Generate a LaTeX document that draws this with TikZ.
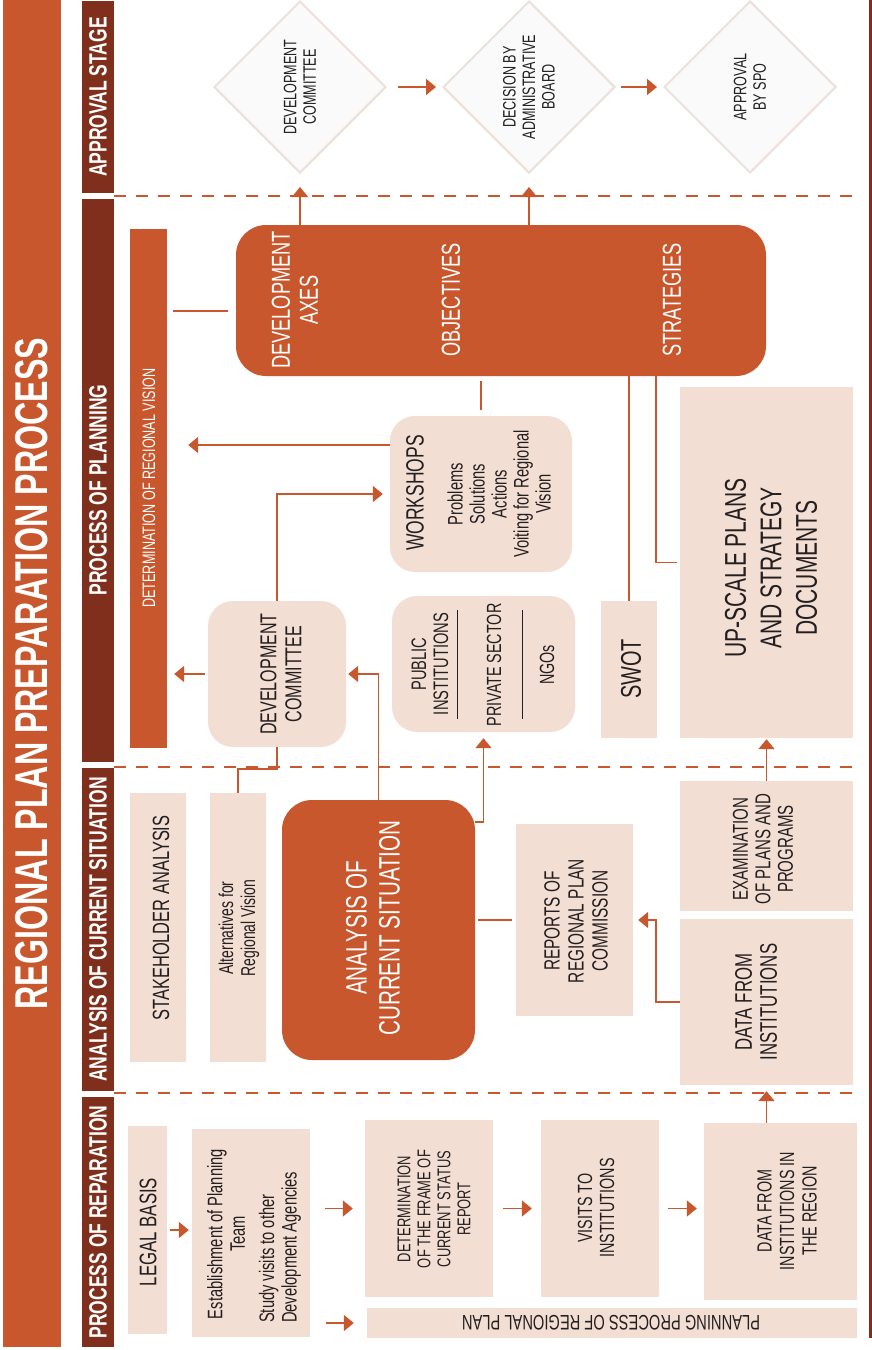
\documentclass[tikz,border=0pt]{standalone}
\usepackage{fontspec}
\setmainfont{Liberation Sans}[FakeStretch=0.7]
\usetikzlibrary{arrows.meta,fit,shapes.geometric}
\definecolor{orC}{HTML}{C9572D}
\definecolor{brC}{HTML}{7F2F1B}
\definecolor{ltC}{HTML}{F3DED3}
\definecolor{dfC}{HTML}{FAFAFA}
\definecolor{dbC}{HTML}{ECE0DB}
\definecolor{txC}{HTML}{231F20}
\newcommand{\fsz}[2]{\fontsize{#1}{#2}\selectfont}
\begin{document}
\begin{tikzpicture}[x=1pt,y=-1pt,
 lbox/.style={fill=ltC, draw=none, inner sep=0pt},
 obox/.style={fill=orC, draw=none, inner sep=0pt},
 hbar/.style={fill=brC, draw=none, inner sep=0pt},
 dia/.style={diamond, fill=dfC, draw=dbC, line width=2pt, minimum width=172pt, minimum height=172pt, inner sep=0pt},
 vt/.style={rotate=90, align=center, inner sep=0pt, text=txC},
 wt/.style={rotate=90, align=center, inner sep=0pt, text=white},
 ln/.style={draw=orC, line width=1.7pt},
 arr/.style={ln, -{Triangle[length=10pt,width=16pt]}},
 sect/.style={draw=orC, line width=2.5pt, dash pattern=on 12pt off 10pt},
 hdr/.style={wt, font=\fsz{25}{26}\bfseries},
]
\useasboundingbox (0,0) rectangle (872,1350);
\fill[white] (0,0) rectangle (872,1350);

% title and section headers
\node[obox, fit={(3,0) (61,1347)}] (tb) {};
\node[wt, font=\fsz{46}{50}\bfseries] (tt) at (tb.center) {REGIONAL PLAN PREPARATION PROCESS};
\node[hbar, fit={(82,1) (114,193)}] (hA) {};
\node[hdr] (hAt) at (hA.center) {APPROVAL STAGE};
\node[hbar, fit={(82,199) (114,762)}] (hP) {};
\node[hdr] (hPt) at (98,490) {PROCESS OF PLANNING};
\node[hbar, fit={(82,768) (114,1091)}] (hC) {};
\node[hdr] (hCt) at (hC.center) {ANALYSIS OF CURRENT SITUATION};
\node[hbar, fit={(82,1097) (114,1347)}] (hR) {};
\node[hdr] (hRt) at (hR.center) {PROCESS OF REPARATION};
\node[hbar, fit={(868.5,0) (871.5,1338)}] (rl) {};

% section dividers
\draw[sect] (114,196) -- (858,196);
\draw[sect] (114,767) -- (858,767);
\draw[sect] (114,1093) -- (858,1093);

% approval stage
\node[dia] (d1) at (300,87) {};
\node[vt, font=\fsz{18}{19.5}] (d1t) at (d1.center) {DEVELOPMENT\\COMMITTEE};
\node[dia] (d2) at (529,87) {};
\node[vt, font=\fsz{18}{19.5}] (d2t) at (d2.center) {DECISION BY\\ADMINISTRATIVE\\BOARD};
\node[dia] (d3) at (750,87) {};
\node[vt, font=\fsz{18}{19.5}] (d3t) at (d3.center) {APPROVAL\\BY SPO};

% process of planning
\node[obox, rounded corners=30pt, fit={(236,225) (766,376)}] (ax) {};
\node[wt, font=\fsz{26}{28}] (axt1) at (295,300) {DEVELOPMENT\\AXES};
\node[wt, font=\fsz{26}{28}] (axt2) at (451,300) {OBJECTIVES};
\node[wt, font=\fsz{26}{28}] (axt3) at (672,300) {STRATEGIES};

\node[obox, fit={(130,229) (167,748)}] (vb) {};
\node[wt, font=\fsz{18}{20}] (vbt) at (149,488) {DETERMINATION OF REGIONAL VISION};

\node[lbox, rounded corners=25pt, fit={(390,416) (572,572)}] (wk) {};
\node[vt, font=\fsz{25}{27}] (wkt) at (415,493) {WORKSHOPS};
\node[vt, font=\fsz{21}{22}] (wks) at (499,494) {Problems\\Solutions\\Actions\\Voiting for Regional\\Vision};

\node[lbox, rounded corners=25pt, fit={(208,601) (346,747)}] (dc) {};
\node[vt, font=\fsz{23}{25}] (dct) at (281,674) {DEVELOPMENT\\COMMITTEE};

\node[lbox, rounded corners=25pt, fit={(392,596) (575,732)}] (pb) {};
\node[vt, font=\fsz{21}{22}] (pbt1) at (430,664) {PUBLIC\\INSTITUTIONS};
\node[vt, font=\fsz{20.5}{22}] (pbt2) at (494,665) {PRIVATE SECTOR};
\node[vt, font=\fsz{20.5}{22}] (pbt3) at (547,665) {NGOs};
\draw[txC, line width=0.9pt] (457,610) -- (457,719);
\draw[txC, line width=0.9pt] (522,610) -- (522,719);

\node[lbox, fit={(601,601) (657,738)}] (sw) {};
\node[vt, font=\fsz{28.5}{30}] (swt) at (631,669) {SWOT};

\node[lbox, fit={(680,387) (853,738)}] (up) {};
\node[vt, font=\fsz{30}{35.5}] (upt) at (771,568) {UP-SCALE PLANS\\AND STRATEGY\\DOCUMENTS};

% analysis of current situation
\node[lbox, fit={(130,793) (186,1062)}] (sa) {};
\node[vt, font=\fsz{23.5}{25}] (sat) at (161,918) {STAKEHOLDER ANALYSIS};
\node[lbox, fit={(210,793) (266,1062)}] (al) {};
\node[vt, font=\fsz{20}{22}] (alt) at (239,928) {Alternatives for\\Regional Vision};
\node[obox, rounded corners=30pt, fit={(282,800) (475,1060)}] (an) {};
\node[wt, font=\fsz{29.5}{33}] (ant) at (373,928) {ANALYSIS OF\\CURRENT SITUATION};
\node[lbox, fit={(516,824) (633,1016)}] (rp) {};
\node[vt, font=\fsz{22}{24}] (rpt) at (576,921) {REPORTS OF\\REGIONAL PLAN\\COMMISSION};
\node[lbox, fit={(680,781) (853,911)}] (ex) {};
\node[vt, font=\fsz{21.5}{22.5}] (ext) at (763,849) {EXAMINATION\\OF PLANS AND\\PROGRAMS};
\node[lbox, fit={(680,919) (853,1085)}] (di) {};
\node[vt, font=\fsz{24}{25}] (dit) at (756,1002) {DATA FROM\\INSTITUTIONS};

% process of reparation
\node[lbox, fit={(128,1126) (167,1334)}] (lg) {};
\node[vt, font=\fsz{24}{25}] (lgt) at (148,1232) {LEGAL BASIS};
\node[lbox, fit={(192,1129) (310,1337)}] (es) {};
\node[vt, font=\fsz{21}{22.5}] (est1) at (226,1234) {Establishment of Planning\\Team};
\node[vt, font=\fsz{21}{22.5}, align=left, anchor=west] (est2) at (280,1323) {Study visits to other\\Development Agencies};
\node[lbox, fit={(365,1120) (493,1297)}] (dt) {};
\node[vt, font=\fsz{18.5}{20}] (dtt) at (434,1209) {DETERMINATION\\OF THE FRAME OF\\CURRENT STATUS\\REPORT};
\node[lbox, fit={(541,1120) (659,1297)}] (vs) {};
\node[vt, font=\fsz{20.5}{22}] (vst) at (596,1208) {VISITS TO\\INSTITUTIONS};
\node[lbox, fit={(704,1123) (857,1300)}] (dr) {};
\node[vt, font=\fsz{20.5}{22.5}] (drt) at (787,1211) {DATA FROM\\INSTITUTIONS IN\\THE REGION};
\node[lbox, fit={(367,1308) (857,1338)}] (pl) {};
\node[rotate=180, inner sep=0pt, text=txC, font=\fsz{21}{22}] (plt) at (611,1323) {PLANNING PROCESS OF REGIONAL PLAN};

% connectors
\draw[arr, shorten >=13pt] (d1.south |- ax.north) -- (d1.south);
\draw[arr, shorten >=13pt] (d2.south |- ax.north) -- (d2.south);
\draw[arr, shorten <=11pt, shorten >=6pt] (d1.east) -- (d2.west);
\draw[arr, shorten <=5pt, shorten >=6pt] (d2.east) -- (d3.west);
\coordinate (axw) at (236,311);
\draw[ln, shorten <=8pt, shorten >=6pt] (axw) -- (vb.east |- axw);
\draw[ln, shorten <=5pt, shorten >=6pt] (wk.north |- ax.south) -- (wk.north);
\draw[ln] (sw.north |- ax.south) -- (sw.north);
\coordinate (axs) at (656,376);
\draw[ln, shorten >=3pt] (axs) |- (up.west);
\coordinate (wkw) at (390,445);
\draw[arr, shorten >=21pt] (wkw) -- (vb.east |- wkw);
\draw[arr, shorten >=7pt] (dc.north) |- (wk.west);
\draw[arr, shorten <=3pt, shorten >=7pt] (dc.west) -- (vb.east |- dc.west);
\draw[ln] (dc.south) -- ++(0,22) -| (al.north);
\draw[arr, shorten >=2pt] (an.north) |- (dc.east);
\coordinate (ane) at (475,822);
\draw[arr, shorten >=6pt] (ane) -| (pb.south);
\draw[ln, shorten <=3pt, shorten >=4pt] (an.east |- rp.west) -- (rp.west);
\draw[arr, shorten >=5pt] (di.west) -- ++(-24,0) |- (rp.east);
\draw[arr, shorten >=1pt] (ex.north) -- (up.south);
\draw[arr, shorten >=6pt] (di.south |- dr.north) -- (di.south);
\draw[arr, shorten <=3pt, shorten >=3pt] (lg.east) -- (es.west |- lg.east);
\draw[arr, shorten <=15pt, shorten >=12pt] (es.east |- dt.west) -- (dt.west);
\draw[arr, shorten <=10pt, shorten >=9pt] (dt.east) -- (vs.west);
\draw[arr, shorten <=9pt, shorten >=7pt] (vs.east) -- (dr.west |- vs.east);
\draw[arr, shorten <=16pt, shorten >=13pt] (es.east |- pl.west) -- (pl.west);
\end{tikzpicture}
\end{document}
